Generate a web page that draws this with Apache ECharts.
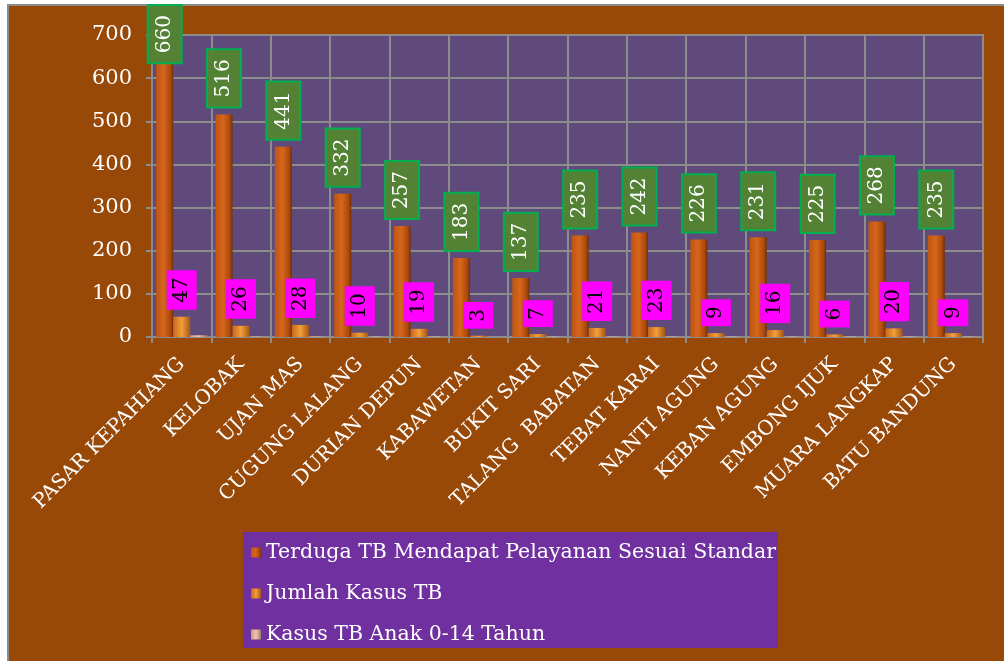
<!DOCTYPE html>
<html>
<head>
<meta charset="utf-8">
<script src="https://cdn.jsdelivr.net/npm/echarts@6/dist/echarts.min.js"></script>
<style>
  html, body { margin: 0; padding: 0; background: #ffffff; }
  #chart { width: 1004px; height: 661px; }
</style>
</head>
<body>
<div id="chart"></div>
<script>
// Puskesmas / desa names along the category axis
const categories = [
  'PASAR KEPAHIANG', 'KELOBAK', 'UJAN MAS', 'CUGUNG LALANG', 'DURIAN DEPUN',
  'KABAWETAN', 'BUKIT SARI', 'TALANG  BABATAN', 'TEBAT KARAI', 'NANTI AGUNG',
  'KEBAN AGUNG', 'EMBONG IJUK', 'MUARA LANGKAP', 'BATU BANDUNG'
];

const seriesNames = [
  'Terduga TB Mendapat Pelayanan Sesuai Standar',
  'Jumlah Kasus TB',
  'Kasus TB Anak 0-14 Tahun'
];

const terduga = [660, 516, 441, 332, 257, 183, 137, 235, 242, 226, 231, 225, 268, 235];
const jumlahKasus = [47, 26, 28, 10, 19, 3, 7, 21, 23, 9, 16, 6, 20, 9];
const kasusAnak = [4, 1, 1, 1, 1, 0, 1, 1, 1, 1, 1, 1, 1, 1];

const yTicks = { min: 0, max: 700, interval: 100 };

const FONT = '"DejaVu Serif", "Liberation Serif", serif';

function grad(stops) {
  return new echarts.graphic.LinearGradient(0, 0, 1, 0,
    stops.map(s => ({ offset: s[0], color: s[1] })));
}

const chart = echarts.init(document.getElementById('chart'), null, { renderer: 'canvas' });

const greenLabel = {
  show: true,
  position: 'top',
  distance: 8,
  rotate: 90,
  align: 'left',
  verticalAlign: 'middle',
  color: '#ffffff',
  fontFamily: FONT,
  fontSize: 20,
  backgroundColor: '#548235',
  borderColor: '#00b050',
  borderWidth: 2,
  padding: [6, 9, 6, 9]
};

const pinkLabel = {
  show: true,
  position: 'top',
  distance: 7,
  rotate: 90,
  align: 'left',
  verticalAlign: 'middle',
  color: '#000000',
  fontFamily: FONT,
  fontSize: 20,
  backgroundColor: '#ff00ff',
  padding: [5, 7, 5, 7]
};

// The tallest bar's label is pushed down so it stays inside the frame
// (offset is in the label's rotated frame: negative x moves it down the page)
const terdugaData = terduga.map((v, i) => i === 0
  ? { value: v, label: { offset: [-18, 0] } }
  : v);

chart.setOption({
  backgroundColor: '#ffffff',
  animation: false,
  textStyle: { fontFamily: FONT },
  graphic: [
    {
      type: 'rect',
      z: -10,
      shape: { x: 8, y: 5, width: 1000, height: 660 },
      style: { fill: '#984807', stroke: '#8c8c8c', lineWidth: 2 }
    },
    {
      type: 'rect',
      z: 1,
      shape: { x: 243, y: 532, width: 535, height: 116 },
      style: { fill: '#7030a0' }
    }
  ],
  grid: {
    left: 152, right: 21, top: 35, bottom: 324,
    show: true,
    backgroundColor: '#604a7b',
    borderColor: '#8c8c8c',
    borderWidth: 2
  },
  legend: {
    orient: 'vertical',
    left: 246,
    top: 537,
    z: 5,
    itemWidth: 10,
    itemHeight: 10,
    itemGap: 20,
    icon: 'rect',
    data: seriesNames,
    textStyle: { color: '#ffffff', fontSize: 20.5, fontFamily: FONT, lineHeight: 20 }
  },
  xAxis: {
    type: 'category',
    data: categories,
    axisLine: { lineStyle: { color: '#8c8c8c', width: 2 } },
    axisTick: { show: true, length: 6, lineStyle: { color: '#8c8c8c', width: 2 } },
    splitLine: { show: true, lineStyle: { color: '#8c8c8c', width: 2 } },
    axisLabel: {
      interval: 0,
      rotate: 45,
      margin: 24,
      color: '#ffffff',
      fontSize: 20,
      fontFamily: FONT
    }
  },
  yAxis: {
    type: 'value',
    min: yTicks.min,
    max: yTicks.max,
    interval: yTicks.interval,
    axisLine: { show: true, lineStyle: { color: '#8c8c8c', width: 2 } },
    axisTick: { show: true, length: 6, lineStyle: { color: '#8c8c8c', width: 2 } },
    splitLine: { show: true, lineStyle: { color: '#8c8c8c', width: 2 } },
    axisLabel: { color: '#ffffff', fontSize: 21, margin: 20, fontFamily: FONT }
  },
  series: [
    {
      name: seriesNames[0],
      type: 'bar',
      data: terdugaData,
      barGap: '0%',
      barCategoryGap: '14%',
      itemStyle: {
        color: grad([[0, '#bf5510'], [0.45, '#d6661c'], [0.85, '#a9480b'], [1, '#6e2e05']])
      },
      label: greenLabel
    },
    {
      name: seriesNames[1],
      type: 'bar',
      data: jumlahKasus,
      itemStyle: {
        color: grad([[0, '#c9661a'], [0.5, '#f2a03c'], [1, '#a85612']])
      },
      label: pinkLabel
    },
    {
      name: seriesNames[2],
      type: 'bar',
      data: kasusAnak,
      itemStyle: {
        color: grad([[0, '#c89a84'], [0.5, '#f0c6b0'], [1, '#a07a66']])
      }
    }
  ]
});
</script>
</body>
</html>
